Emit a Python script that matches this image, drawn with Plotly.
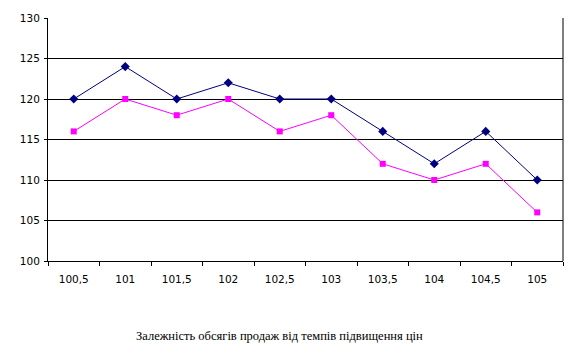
import plotly.graph_objects as go

categories = ["100,5", "101", "101,5", "102", "102,5", "103", "103,5", "104", "104,5", "105"]
series_a = [120, 124, 120, 122, 120, 120, 116, 112, 116, 110]
series_b = [116, 120, 118, 120, 116, 118, 112, 110, 112, 106]
y_ticks = [100, 105, 110, 115, 120, 125, 130]
x_title = "Залежність обсягів продаж від темпів підвищення цін"

fig = go.Figure()
fig.add_trace(go.Scatter(
    x=categories, y=series_a, mode="lines+markers",
    line=dict(color="#000080", width=1),
    marker=dict(symbol="diamond", size=7, color="#000080"),
    showlegend=False,
))
fig.add_trace(go.Scatter(
    x=categories, y=series_b, mode="lines+markers",
    line=dict(color="#FF00FF", width=1),
    marker=dict(symbol="square", size=6, color="#FF00FF"),
    showlegend=False,
))

fig.update_layout(
    width=575, height=353,
    margin=dict(l=48, r=12, t=16, b=92),
    paper_bgcolor="white", plot_bgcolor="white",
    font=dict(family="DejaVu Sans", size=10.5, color="black"),
    xaxis=dict(
        type="category", range=[-0.5, 9.5],
        showgrid=False, showline=True, linecolor="black", linewidth=1,
        mirror=False, ticks="outside", tickson="boundaries", ticklen=4,
        tickcolor="black", zeroline=False, ticklabelstandoff=8,
    ),
    yaxis=dict(
        range=[100, 130], tickvals=y_ticks,
        showgrid=True, gridcolor="black", gridwidth=1,
        showline=True, linecolor="black", linewidth=1,
        ticks="outside", ticklen=3, tickcolor="black", zeroline=False,
        ticklabelstandoff=2,
    ),
    annotations=[dict(
        text=x_title, xref="paper", yref="paper", x=0.45, y=-0.31,
        xanchor="center", yanchor="middle", showarrow=False,
        font=dict(family="Liberation Serif", size=12.5, color="black"),
    )],
    shapes=[dict(type="line", xref="paper", yref="paper", x0=1, x1=1, y0=0, y1=1,
                 line=dict(color="black", width=1))],
)

fig.write_html("out.html")
